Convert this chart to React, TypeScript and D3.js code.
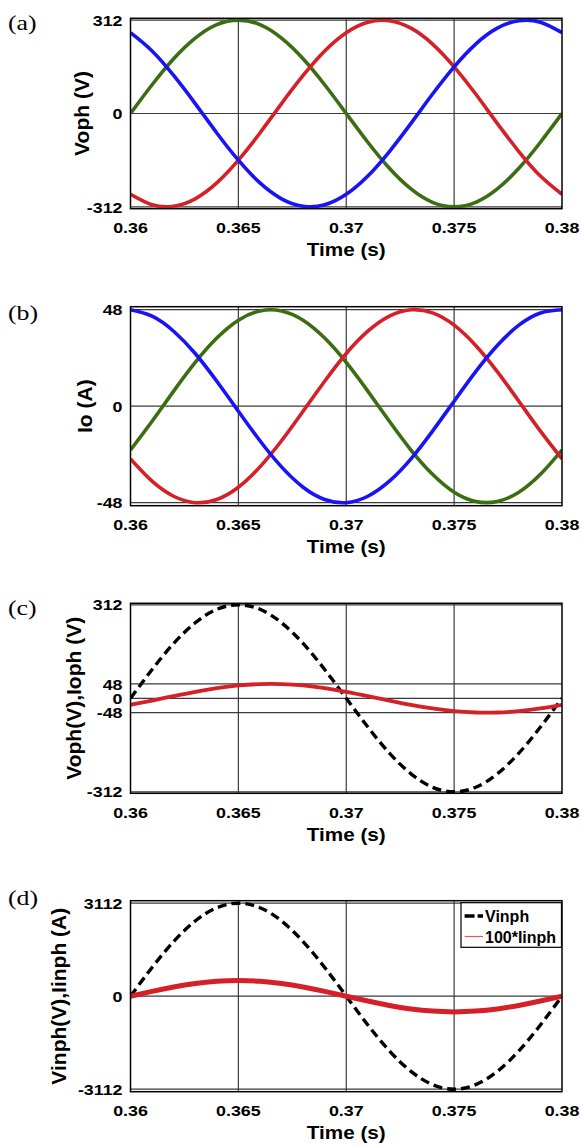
import React from "react";
import * as d3 from "d3";

// Sample instants (s)
const TIME = [
  0.36, 0.361, 0.362, 0.363, 0.364, 0.365, 0.366, 0.367, 0.368, 0.369, 0.37,
  0.371, 0.372, 0.373, 0.374, 0.375, 0.376, 0.377, 0.378, 0.379, 0.38,
];

// (a) output phase voltages (V)
const VOPH_A = [0, 96, 183, 252, 297, 312, 297, 252, 183, 96, 0, -96, -183, -252, -297, -312, -297, -252, -183, -96, 0];
const VOPH_B = [-270, -305, -310, -285, -232, -156, -65, 33, 127, 209, 270, 305, 310, 285, 232, 156, 65, -33, -127, -209, -270];
const VOPH_C = [270, 209, 127, 33, -65, -156, -232, -285, -310, -305, -270, -209, -127, -33, 65, 156, 232, 285, 310, 305, 270];

// (b) output currents (A)
const IO_A = [-21.8, -7.5, 7.5, 21.8, 33.9, 42.8, 47.4, 47.4, 42.8, 33.9, 21.8, 7.5, -7.5, -21.8, -33.9, -42.8, -47.4, -47.4, -42.8, -33.9, -21.8];
const IO_B = [-26.2, -37.3, -44.8, -48.0, -46.4, -40.3, -30.2, -17.2, -2.5, 12.4, 26.2, 37.3, 44.8, 48.0, 46.4, 40.3, 30.2, 17.2, 2.5, -12.4, -26.2];
const IO_C = [48.0, 44.8, 37.3, 26.2, 12.4, -2.5, -17.2, -30.2, -40.3, -46.4, -48.0, -44.8, -37.3, -26.2, -12.4, 2.5, 17.2, 30.2, 40.3, 46.4, 48.0];

// (c) one output phase: voltage and current
const VOPH_1 = [0, 96, 183, 252, 297, 312, 297, 252, 183, 96, 0, -96, -183, -252, -297, -312, -297, -252, -183, -96, 0];
const IOPH_1 = [-21.8, -7.5, 7.5, 21.8, 33.9, 42.8, 47.4, 47.4, 42.8, 33.9, 21.8, 7.5, -7.5, -21.8, -33.9, -42.8, -47.4, -47.4, -42.8, -33.9, -21.8];

// (d) input phase voltage and scaled input current
const VINPH = [0, 962, 1829, 2518, 2960, 3112, 2960, 2518, 1829, 962, 0, -962, -1829, -2518, -2960, -3112, -2960, -2518, -1829, -962, 0];
const IINPH_X100 = [0, 162, 309, 425, 499, 525, 499, 425, 309, 162, 0, -162, -309, -425, -499, -525, -499, -425, -309, -162, 0];

const X_TICKS = [0.36, 0.365, 0.37, 0.375, 0.38];
const X_TICK_LABELS = ["0.36", "0.365", "0.37", "0.375", "0.38"];
const X_GRID = [0.365, 0.37, 0.375];

const GREEN = "#3b6e12";
const RED = "#d42026";
const BLUE = "#1a14f5";
const BLACK = "#000";

const SANS = "'Liberation Sans', Arial, sans-serif";
const SERIF = "'Liberation Serif', 'Times New Roman', serif";

const X0 = 130.5;
const X1 = 562;

type Series = { values: number[]; color: string; width: number; dash?: string };
type Panel = {
  tag: string;
  tagY: number;
  top: number;
  bottom: number;
  yMax: number;
  yTicks: number[];
  yTitle: string;
  yTitleX: number;
  series: Series[];
  legend?: { name: string; color: string; dash?: string; width: number }[];
};

const PANELS: Panel[] = [
  {
    tag: "(a)", tagY: 29.5, top: 18.3, bottom: 208.7, yMax: 318,
    yTicks: [312, 0, -312], yTitle: "Voph (V)", yTitleX: 88.5,
    series: [
      { values: VOPH_A, color: GREEN, width: 3.6 },
      { values: VOPH_B, color: RED, width: 3.6 },
      { values: VOPH_C, color: BLUE, width: 3.6 },
    ],
  },
  {
    tag: "(b)", tagY: 319.5, top: 306.7, bottom: 505.7, yMax: 49.5,
    yTicks: [48, 0, -48], yTitle: "Io (A)", yTitleX: 92,
    series: [
      { values: IO_A, color: GREEN, width: 3.6 },
      { values: IO_B, color: RED, width: 3.6 },
      { values: IO_C, color: BLUE, width: 3.6 },
    ],
  },
  {
    tag: "(c)", tagY: 614.5, top: 603.3, bottom: 793.3, yMax: 317,
    yTicks: [312, 48, 0, -48, -312], yTitle: "Voph(V),Ioph (V)", yTitleX: 80.5,
    series: [
      { values: VOPH_1, color: BLACK, width: 3.4, dash: "9,5" },
      { values: IOPH_1, color: RED, width: 3.8 },
    ],
  },
  {
    tag: "(d)", tagY: 904.5, top: 900.7, bottom: 1091.7, yMax: 3196,
    yTicks: [3112, 0, -3112], yTitle: "Vinph(V),Iinph (A)", yTitleX: 66,
    series: [
      { values: VINPH, color: BLACK, width: 3.4, dash: "9,5" },
      { values: IINPH_X100, color: RED, width: 5 },
    ],
    legend: [
      { name: "Vinph", color: BLACK, dash: "10,3", width: 3.4 },
      { name: "100*Iinph", color: "#e05a5a", width: 1.2 },
    ],
  },
];

const x = d3.scaleLinear().domain([0.36, 0.38]).range([X0, X1]);

function Txt(props: {
  x: number; y: number; sx?: number; size: number; anchor?: string;
  family?: string; weight?: string | number; rotate?: number; children: React.ReactNode;
}) {
  const { sx = 1, rotate = 0 } = props;
  return (
    <text
      transform={`translate(${props.x},${props.y}) rotate(${rotate}) scale(${sx},1)`}
      textAnchor={props.anchor || "start"}
      fontSize={props.size}
      fontFamily={props.family || SANS}
      fontWeight={props.weight ?? "bold"}
      fill="#000"
    >
      {props.children}
    </text>
  );
}

function PanelView({ p, idx }: { p: Panel; idx: number }) {
  const y = d3.scaleLinear().domain([-p.yMax, p.yMax]).range([p.bottom, p.top]);
  const line = d3
    .line<number>()
    .x((_, i) => x(TIME[i]))
    .y((v) => y(v))
    .curve(d3.curveNatural);
  const clipId = `clip-${idx}`;
  const midX = (X0 + X1) / 2;
  const midY = (p.top + p.bottom) / 2;
  return (
    <g>
      <defs>
        <clipPath id={clipId}>
          <rect x={X0} y={p.top} width={X1 - X0} height={p.bottom - p.top} />
        </clipPath>
      </defs>
      <rect x={X0} y={p.top} width={X1 - X0} height={p.bottom - p.top} fill="#fff" />
      {/* grid */}
      {X_GRID.map((t) => (
        <line key={`gx${t}`} x1={x(t)} x2={x(t)} y1={p.top} y2={p.bottom} stroke="#3a3a3a" strokeWidth={1.2} />
      ))}
      {p.yTicks.map((v) => (
        <line key={`gy${v}`} x1={X0} x2={X1} y1={y(v)} y2={y(v)} stroke="#3a3a3a" strokeWidth={1.2} />
      ))}
      {/* traces */}
      <g clipPath={`url(#${clipId})`}>
        {p.series.map((s, i) => (
          <path
            key={i}
            d={line(s.values) || ""}
            fill="none"
            stroke={s.color}
            strokeWidth={s.width}
            strokeDasharray={s.dash}
            strokeLinejoin="round"
          />
        ))}
      </g>
      {/* frame */}
      <rect x={X0} y={p.top} width={X1 - X0} height={p.bottom - p.top} fill="none" stroke="#000" strokeWidth={1.5} />
      {/* y tick labels */}
      {p.yTicks.map((v) => (
        <Txt key={`ty${v}`} x={122.5} y={y(v) + 5.6} sx={1.15} size={15.5} anchor="end">
          {String(v)}
        </Txt>
      ))}
      {/* x tick labels */}
      {X_TICKS.map((t, i) => (
        <Txt key={`tx${t}`} x={x(t)} y={p.bottom + 24.5} sx={1.15} size={15.5} anchor="middle">
          {X_TICK_LABELS[i]}
        </Txt>
      ))}
      <Txt x={midX} y={p.bottom + 47.5} sx={1.15} size={18} anchor="middle">
        Time (s)
      </Txt>
      <Txt x={p.yTitleX} y={midY} rotate={-90} size={21} anchor="middle">
        {p.yTitle}
      </Txt>
      <Txt x={8} y={p.tagY} sx={1.2} size={21.5} family={SERIF} weight="normal">
        {p.tag}
      </Txt>
      {p.legend && (
        <g>
          <rect x={461} y={902.7} width={100.5} height={44.6} fill="#fff" stroke="#000" strokeWidth={1.2} />
          {p.legend.map((l, i) => {
            const ly = 916 + i * 20.5;
            return (
              <g key={l.name}>
                <line x1={464.6} x2={483} y1={ly} y2={ly} stroke={l.color} strokeWidth={l.width} strokeDasharray={l.dash} />
                <Txt x={485} y={ly + 6} size={16}>
                  {l.name}
                </Txt>
              </g>
            );
          })}
        </g>
      )}
    </g>
  );
}

export default function App() {
  return (
    <svg
      width={582}
      height={1147}
      viewBox="0 0 582 1147"
      style={{ position: "absolute", left: 0, top: 0, background: "#fff" }}
    >
      <rect width={582} height={1147} fill="#fff" />
      {PANELS.map((p, i) => (
        <PanelView key={p.tag} p={p} idx={i} />
      ))}
    </svg>
  );
}
